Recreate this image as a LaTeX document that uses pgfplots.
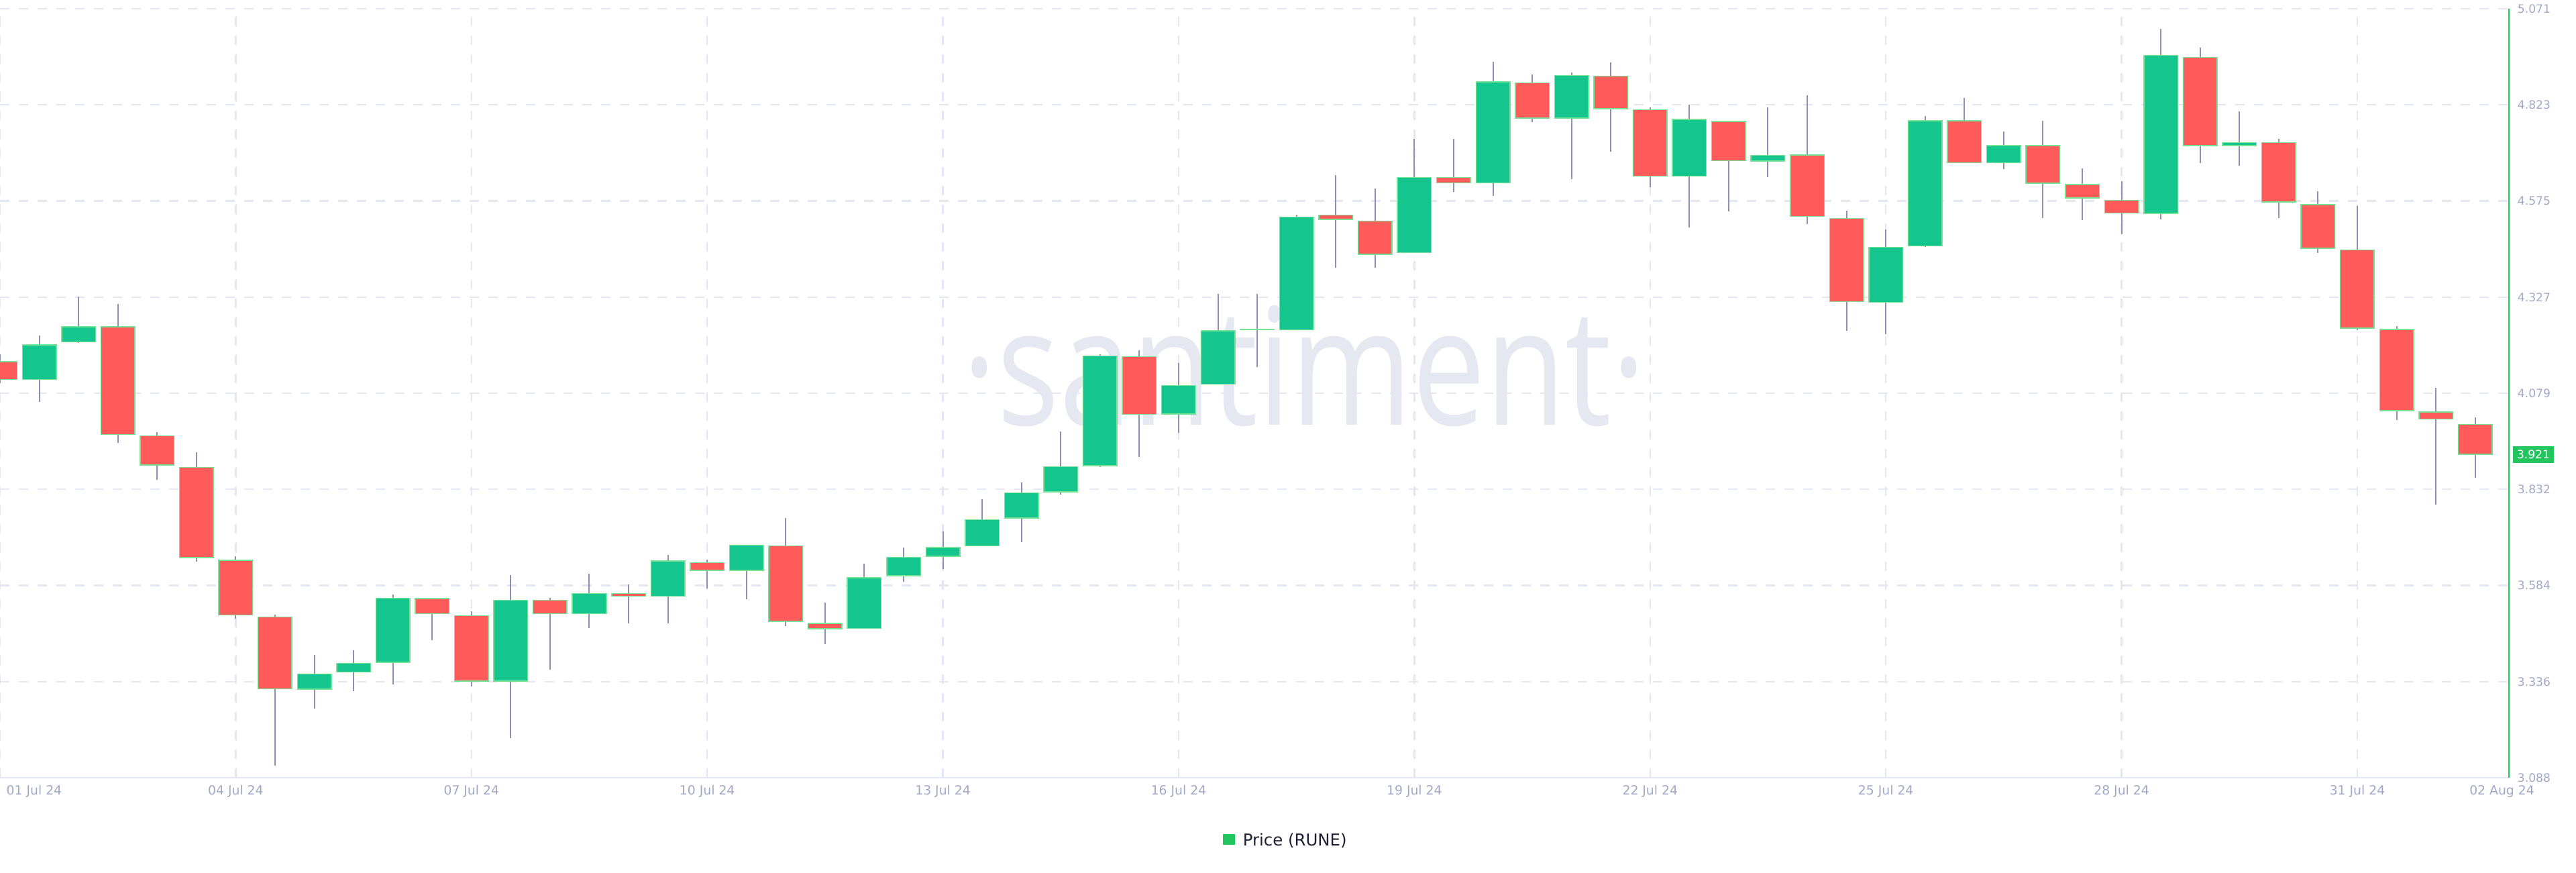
\documentclass[border=0pt]{standalone}
\usepackage{pgfplots}
\pgfplotsset{compat=1.18}
\usepackage{pgfplotstable}
\usepackage{fontspec}
\setmainfont{DejaVu Sans}
\newfontfamily\wmfont{Open Sans}
\definecolor{cgreen}{RGB}{21,197,142}
\definecolor{cred}{RGB}{255,91,91}
\definecolor{coutline}{RGB}{118,226,150}
\definecolor{wickcolor}{RGB}{138,145,180}
\definecolor{gridcolor}{RGB}{228,230,241}
\definecolor{axiscolor}{RGB}{226,229,244}
\definecolor{rightaxis}{RGB}{34,197,94}
\definecolor{labelcolor}{RGB}{160,168,199}
\definecolor{wmcolor}{RGB}{229,231,241}
\definecolor{legendtext}{RGB}{28,31,51}

\pgfplotstableread{
x o h l c
0.0 4.162 4.180 4.105 4.114
0.5 4.114 4.229 4.057 4.205
1.0 4.211 4.328 4.210 4.252
1.5 4.252 4.309 3.952 3.972
2.0 3.971 3.980 3.857 3.893
2.5 3.890 3.928 3.645 3.654
3.0 3.650 3.659 3.498 3.506
3.5 3.504 3.508 3.120 3.316
4.0 3.315 3.405 3.267 3.357
4.5 3.359 3.417 3.312 3.384
5.0 3.384 3.560 3.328 3.552
5.5 3.551 3.551 3.442 3.510
6.0 3.507 3.518 3.324 3.336
6.5 3.336 3.610 3.190 3.547
7.0 3.547 3.552 3.367 3.510
7.5 3.510 3.614 3.474 3.564
8.0 3.564 3.587 3.486 3.555
8.5 3.555 3.662 3.486 3.648
9.0 3.644 3.650 3.576 3.621
9.5 3.621 3.689 3.548 3.689
10.0 3.687 3.758 3.479 3.490
10.5 3.487 3.540 3.432 3.471
11.0 3.472 3.640 3.472 3.605
11.5 3.608 3.681 3.593 3.658
12.0 3.658 3.723 3.626 3.683
12.5 3.685 3.807 3.685 3.755
13.0 3.756 3.849 3.695 3.824
13.5 3.824 3.981 3.819 3.891
14.0 3.891 4.180 3.889 4.177
14.5 4.175 4.191 3.915 4.024
15.0 4.025 4.158 3.977 4.101
15.5 4.102 4.336 4.102 4.242
16.0 4.242 4.336 4.147 4.242
16.5 4.242 4.540 4.242 4.535
17.0 4.540 4.642 4.403 4.526
17.5 4.525 4.607 4.403 4.436
18.0 4.441 4.735 4.441 4.637
18.5 4.637 4.736 4.599 4.621
19.0 4.621 4.935 4.589 4.884
19.5 4.881 4.902 4.779 4.788
20.0 4.788 4.906 4.632 4.900
20.5 4.898 4.932 4.703 4.812
21.0 4.812 4.816 4.611 4.638
21.5 4.638 4.823 4.507 4.787
22.0 4.782 4.782 4.548 4.678
22.5 4.677 4.817 4.636 4.694
23.0 4.695 4.848 4.515 4.534
23.5 4.532 4.550 4.240 4.314
24.0 4.313 4.501 4.232 4.457
24.5 4.458 4.795 4.457 4.783
25.0 4.783 4.841 4.673 4.673
25.5 4.673 4.754 4.657 4.719
26.0 4.719 4.782 4.532 4.620
26.5 4.619 4.660 4.526 4.582
27.0 4.578 4.627 4.490 4.543
27.5 4.542 5.019 4.527 4.952
28.0 4.947 4.971 4.673 4.717
28.5 4.717 4.807 4.666 4.727
29.0 4.727 4.735 4.531 4.571
29.5 4.567 4.601 4.442 4.452
30.0 4.450 4.563 4.242 4.246
30.5 4.245 4.253 4.011 4.033
31.0 4.032 4.094 3.792 4.012
31.5 4.000 4.018 3.862 3.921
}\candles

\begin{document}
\begin{tikzpicture}
\path[use as bounding box] (0pt,-35.25pt) rectangle (960pt,289.75pt);
\node[anchor=base, inner sep=0pt, text=wmcolor] at (486.1pt,131.5pt)
  {\scalebox{0.8}[1]{\wmfont\fontsize{60.75}{70}\selectfont ·santiment·}};
\begin{axis}[
  scale only axis, width=935pt, height=286.5pt,
  xmin=0, xmax=31.93, ymin=3.088, ymax=5.071,
  axis x line*=bottom, axis y line*=right,
  x axis line style={draw=axiscolor, line width=0.6pt, -},
  y axis line style={draw=rightaxis, line width=0.6pt, -},
  xtick={0,3,...,30},
  xticklabels={{},04 Jul 24,07 Jul 24,10 Jul 24,13 Jul 24,16 Jul 24,19 Jul 24,22 Jul 24,25 Jul 24,28 Jul 24,31 Jul 24},
  extra x ticks={0.435,31.84},
  extra x tick labels={01 Jul 24,02 Aug 24},
  extra x tick style={grid=none},
  ytick={3.088,3.335875,3.58375,3.831625,4.0795,4.327375,4.57525,4.823125,5.071},
  yticklabels={3.088,3.336,3.584,3.832,4.079,4.327,4.575,4.823,5.071},
  major tick length=0pt,
  tick style={draw=none},
  grid=major,
  major grid style={draw=gridcolor, line width=0.6pt, dash pattern=on 3.5pt off 3.5pt},
  xticklabel style={anchor=base, yshift=-6.25pt, inner sep=0pt, font=\fontsize{4.7}{5}\selectfont, text=labelcolor},
  yticklabel style={anchor=west, xshift=3pt, inner sep=0pt, font=\fontsize{4.3}{5}\selectfont, text=labelcolor},
  every axis plot/.append style={draw=none, mark=none, forget plot},
]
% wicks
\addplot[draw=none, mark=none,
  error bars/.cd, y dir=plus, y explicit, error mark=none,
  error bar style={draw=wickcolor, line width=0.5pt, solid}]
  table[x=x, y=l, y error expr={\thisrow{h}-\thisrow{l}}] {\candles};
% body outlines
\addplot[draw=none, mark=none,
  error bars/.cd, y dir=plus, y explicit, error mark=none,
  error bar style={draw=coutline, line width=13pt, solid}]
  table[x=x, y expr={min(\thisrow{o},\thisrow{c})},
        y error expr={max(abs(\thisrow{c}-\thisrow{o}),0.0035)}] {\candles};
% green bodies
\addplot[draw=none, mark=none,
  error bars/.cd, y dir=plus, y explicit, error mark=none,
  error bar style={draw=cgreen, line width=12.25pt, solid}]
  table[x=x, y expr={min(\thisrow{o},\thisrow{c})+0.0026},
        y error expr={ifthenelse(\thisrow{c}>\thisrow{o}, max(\thisrow{c}-\thisrow{o}-0.0052,0), 0)}] {\candles};
% red bodies
\addplot[draw=none, mark=none,
  error bars/.cd, y dir=plus, y explicit, error mark=none,
  error bar style={draw=cred, line width=12.25pt, solid}]
  table[x=x, y expr={min(\thisrow{o},\thisrow{c})+0.0026},
        y error expr={ifthenelse(\thisrow{o}>\thisrow{c}, max(\thisrow{o}-\thisrow{c}-0.0052,0), 0)}] {\candles};
\end{axis}
\node[fill=rightaxis, text=white, inner sep=0pt, minimum width=15.25pt, minimum height=6.25pt,
  font=\fontsize{4.3}{5}\selectfont] at (944.1pt,120.4pt) {3.921};
\fill[rightaxis] (455.75pt,-25pt) rectangle (460.25pt,-21pt);
\node[anchor=base west, inner sep=0pt, text=legendtext, font=\fontsize{6.1}{7}\selectfont]
  at (463pt,-25.25pt) {Price (RUNE)};
\end{tikzpicture}
\end{document}
